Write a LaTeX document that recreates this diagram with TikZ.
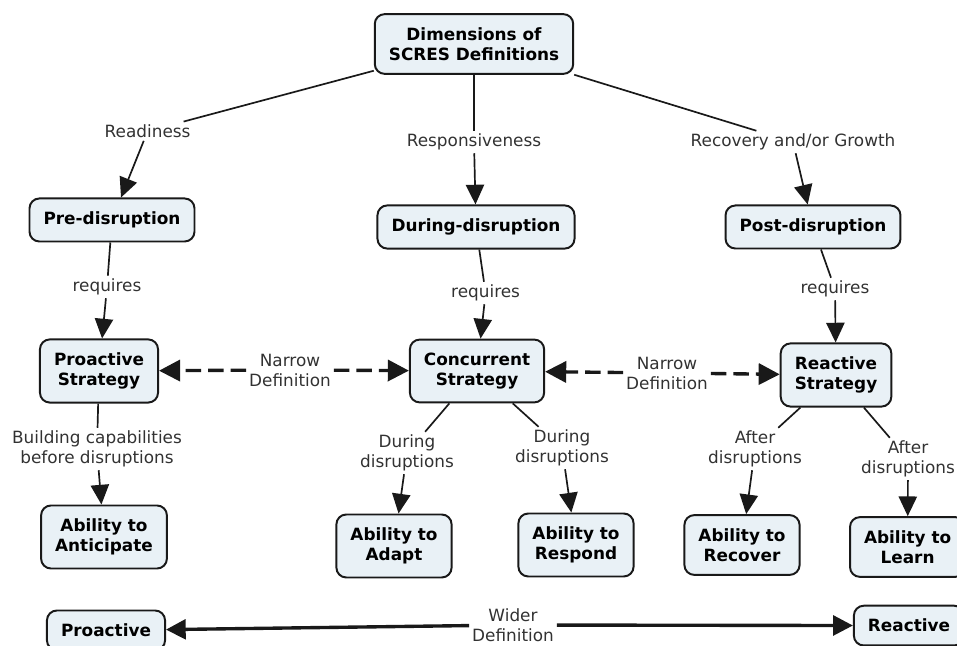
\documentclass[tikz,border=0pt]{standalone}
\usepackage{fontspec}
\setmainfont{DejaVu Sans}
\definecolor{cmapfill}{RGB}{233, 241, 246}
\definecolor{cmapline}{RGB}{25, 25, 25}
\definecolor{linktext}{RGB}{50, 50, 50}
\usetikzlibrary{arrows.meta}

\begin{document}
\begin{tikzpicture}[
  concept/.style={draw=cmapline, fill=cmapfill, line width=1.4pt, rounded corners=7pt, align=center, inner xsep=10pt, inner ysep=9.5pt, font=\fontsize{12}{14.2}\selectfont\bfseries},
  linkword/.style={text=linktext, align=center, inner sep=2pt, font=\fontsize{12}{14.2}\selectfont},
  link/.style={draw=cmapline, line width=1.2pt},
  linkarrow/.style={link, -{Triangle[length=14pt, width=13pt]}},
  narrowlink/.style={draw=cmapline, line width=2.4pt, dash pattern=on 11pt off 5pt, -{Triangle[length=15pt, width=15pt]}},
  widelink/.style={draw=cmapline, line width=2.4pt, -{Triangle[length=14pt, width=14pt]}}
]
  \useasboundingbox (0, 0) rectangle (23.925, -16.15);

  % Root
  \node[concept] (root) at (11.85, -1.1) {Dimensions of\\SCRES Definitions};

  % Phases
  \node[concept] (pre) at (2.8, -5.5) {Pre-disruption};
  \node[concept] (during) at (11.9, -5.675) {During-disruption};
  \node[concept] (post) at (20.325, -5.675) {Post-disruption};

  % Strategies
  \node[concept] (proS) at (2.475, -9.275) {Proactive\\Strategy};
  \node[concept] (conS) at (11.925, -9.275) {Concurrent\\Strategy};
  \node[concept] (reaS) at (20.9, -9.375) {Reactive\\Strategy};

  % Abilities
  \node[concept] (anticipate) at (2.6, -13.425) {Ability to\\Anticipate};
  \node[concept] (adapt) at (9.85, -13.65) {Ability to\\Adapt};
  \node[concept] (respond) at (14.4, -13.625) {Ability to\\Respond};
  \node[concept] (recover) at (18.55, -13.625) {Ability to\\Recover};
  \node[concept] (learn) at (22.69, -13.675) {Ability to\\Learn};

  % Wide ends
  \node[concept] (proactive) at (2.65, -15.76) {Proactive};
  \node[concept] (reactive) at (22.725, -15.64) {Reactive};

  % Linking words
  \node[linkword] (lReady) at (3.69, -3.28) {Readiness};
  \node[linkword] (lResp) at (11.85, -3.55) {Responsiveness};
  \node[linkword] (lRecov) at (19.825, -3.55) {Recovery and/or Growth};
  \node[linkword] (lReqA) at (2.675, -7.175) {requires};
  \node[linkword] (lReqB) at (12.14, -7.325) {requires};
  \node[linkword] (lReqC) at (20.875, -7.225) {requires};
  \node[linkword] (lNarA) at (7.25, -9.25) {Narrow\\Definition};
  \node[linkword] (lNarB) at (16.675, -9.325) {Narrow\\Definition};
  \node[linkword] (lBuild) at (2.425, -11.225) {Building capabilities\\before disruptions};
  \node[linkword] (lDurA) at (10.175, -11.325) {During\\disruptions};
  \node[linkword] (lDurB) at (14.05, -11.2) {During\\disruptions};
  \node[linkword] (lAftA) at (18.875, -11.225) {After\\disruptions};
  \node[linkword] (lAftB) at (22.7, -11.475) {After\\disruptions};
  \node[linkword] (lWide) at (12.825, -15.625) {Wider\\Definition};

  % Connectors
  \draw[link] (root) -- (lReady);
  \draw[linkarrow] (lReady) -- (pre);
  \draw[link] (root) -- (lResp);
  \draw[linkarrow] (lResp) -- (during);
  \draw[link] (root) -- (lRecov);
  \draw[linkarrow] (lRecov) -- (post);

  \draw[link] (pre) -- (lReqA);
  \draw[linkarrow] (lReqA) -- (proS);
  \draw[link] (during) -- (lReqB);
  \draw[linkarrow] (lReqB) -- (conS);
  \draw[link] (post) -- (lReqC);
  \draw[linkarrow] (lReqC) -- (reaS);

  \draw[narrowlink] (lNarA) -- (proS);
  \draw[narrowlink] (lNarA) -- (conS);
  \draw[narrowlink] (lNarB) -- (conS);
  \draw[narrowlink] (lNarB) -- (reaS);

  \draw[link] (proS) -- (lBuild);
  \draw[linkarrow] (lBuild) -- (anticipate);
  \draw[link] (conS) -- (lDurA);
  \draw[linkarrow] (lDurA) -- (adapt);
  \draw[link] (conS) -- (lDurB);
  \draw[linkarrow] (lDurB) -- (respond);
  \draw[link] (reaS) -- (lAftA);
  \draw[linkarrow] (lAftA) -- (recover);
  \draw[link] (reaS) -- (lAftB);
  \draw[linkarrow] (lAftB) -- (learn);

  \draw[widelink] (lWide) -- (proactive);
  \draw[widelink] (lWide) -- (reactive);
\end{tikzpicture}
\end{document}
